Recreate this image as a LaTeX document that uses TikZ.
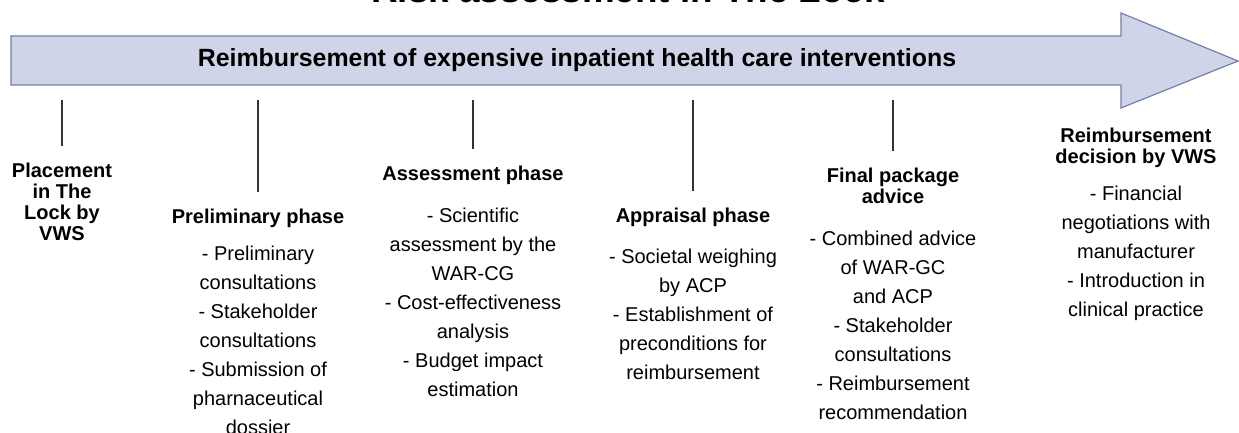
\documentclass[tikz,border=0pt]{standalone}
\usepackage{fontspec}
\setmainfont{Liberation Sans}
\definecolor{bandfill}{RGB}{208,212,232}
\definecolor{bandline}{RGB}{118,126,170}
\definecolor{tickgray}{RGB}{50,50,50}
\begin{document}
\begin{tikzpicture}[x=1pt,y=-1pt,
	phase/.style={font=\bfseries\fontsize{20}{21}\selectfont,align=center,inner sep=0pt,anchor=north},
	items/.style={font=\fontsize{20}{29}\selectfont,align=center,inner sep=0pt,anchor=north},
	tick/.style={line width=2pt,draw=tickgray,shorten >=16pt}]
	\useasboundingbox (0,0) rectangle (1239,433);
	% title sits mostly above the page
	\node[font=\bfseries\fontsize{36.8}{40}\selectfont,anchor=base] (title) at (628,2.5) {Risk assessment in The Lock};
	% the big arrow
	\draw[fill=bandfill,draw=bandline,line width=1.2pt] (11,36) -- (1121,36) -- (1121,13) -- (1238,61) -- (1121,108) -- (1121,85) -- (11,85) -- cycle;
	\node[font=\bfseries\fontsize{24.9}{27}\selectfont] (band) at (577,60) {Reimbursement of expensive inpatient health care interventions};
	% phases (y is the top of the first line)
	\node[phase] (place) at (62,162.4) {Placement\\in The\\Lock by\\VWS};
	\node[phase] (prelim) at (258,208.4) {Preliminary phase};
	\node[phase] (assess) at (473,165.4) {Assessment phase};
	\node[phase] (apprais) at (693,207.4) {Appraisal phase};
	\node[phase] (final) at (893,167.4) {Final package\\advice};
	\node[phase] (decis) at (1136,127.4) {Reimbursement\\decision by VWS};
	% what happens in each phase
	\node[items] (prelimtxt) at (258,245.4) {- Preliminary\\consultations\\- Stakeholder\\consultations\\- Submission of\\pharnaceutical\\dossier};
	\node[items] (assesstxt) at (473,207.4) {- Scientific\\assessment by the\\WAR-CG\\- Cost-effectiveness\\analysis\\- Budget impact\\estimation};
	\node[items] (appraistxt) at (693,248.4) {- Societal weighing\\by ACP\\- Establishment of\\preconditions for\\reimbursement};
	\node[items] (finaltxt) at (893,230.4) {- Combined advice\\of WAR-GC\\and ACP\\- Stakeholder\\consultations\\- Reimbursement\\recommendation};
	\node[items] (decistxt) at (1136,185.4) {- Financial\\negotiations with\\manufacturer\\- Introduction in\\clinical practice};
	% ticks under the arrow
	\coordinate (t1) at (62,100);
	\coordinate (t2) at (258,100);
	\coordinate (t3) at (473,100);
	\coordinate (t4) at (693,100);
	\coordinate (t5) at (893,100);
	\draw[tick] (t1) -- (place);
	\draw[tick] (t2) -- (prelim);
	\draw[tick] (t3) -- (assess);
	\draw[tick] (t4) -- (apprais);
	\draw[tick] (t5) -- (final);
\end{tikzpicture}
\end{document}
